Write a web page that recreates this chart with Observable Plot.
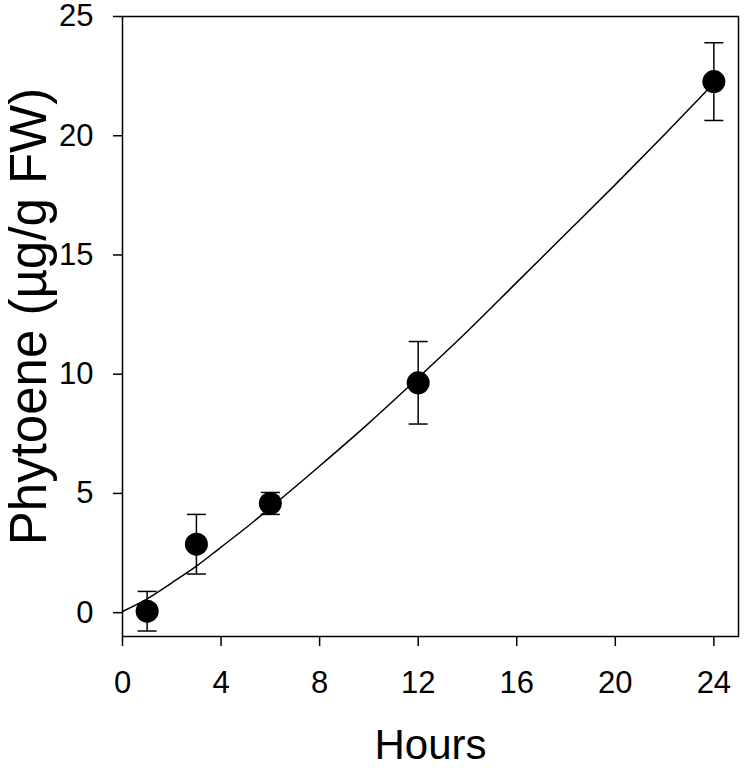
<!DOCTYPE html>
<html>
<head>
<meta charset="utf-8">
<script src="https://cdn.jsdelivr.net/npm/d3@7"></script>
<script src="https://cdn.jsdelivr.net/npm/@observablehq/plot@0.6"></script>
<style>
  html, body { margin: 0; padding: 0; background: #fff; }
  #chart svg { display: block; }
</style>
</head>
<body>
<div id="chart"></div>
<script>
// Measured points (mean ± error)
const hours = [1, 3, 6, 12, 24];
const phytoene = [0.06, 2.87, 4.58, 9.64, 22.27];
const errors = [0.83, 1.25, 0.46, 1.73, 1.63];

// Fitted curve
const fitHours = [0, 1, 2, 3, 4, 5, 6, 8, 10, 12, 14, 16, 18, 20, 22, 24];
const fitValues = [0.05, 0.58, 1.25, 1.95, 2.75, 3.55, 4.4, 6.15, 7.95, 9.85, 11.8, 13.85, 15.9, 17.95, 20.05, 22.2];

// Tick labels
const xTicks = [0, 4, 8, 12, 16, 20, 24];
const yTicks = [0, 5, 10, 15, 20, 25];

const xTitle = "Hours";
const yTitle = "Phytoene (\u00b5g/g FW)";

const points = hours.map((h, i) => ({h, v: phytoene[i], lo: phytoene[i] - errors[i], hi: phytoene[i] + errors[i]}));
const fit = fitHours.map((h, i) => ({h, v: fitValues[i]}));

const capSymbol = {
  draw(context, size) {
    const r = Math.sqrt(size / Math.PI);
    context.moveTo(-r, 0);
    context.lineTo(r, 0);
  }
};

const font = "'Liberation Sans', Arial, Helvetica, sans-serif";

const chart = Plot.plot({
  width: 746,
  height: 768,
  marginLeft: 122,
  marginRight: 8,
  marginTop: 16,
  marginBottom: 132,
  style: {fontFamily: font, fontSize: "31px", color: "#000", background: "#fff", overflow: "visible"},
  x: {domain: [0, 25]},
  y: {domain: [-1, 25]},
  marks: [
    Plot.frame({stroke: "#000", strokeWidth: 1.5}),
    Plot.axisX({ticks: xTicks, tickSize: 10, tickPadding: 24, tickFormat: d => String(d), label: null, strokeWidth: 1.5, fontSize: 31}),
    Plot.axisY({ticks: yTicks, tickSize: 9, tickPadding: 20, tickFormat: d => String(d), label: null, strokeWidth: 1.5, fontSize: 31}),
    Plot.line(fit, {x: "h", y: "v", curve: "monotone-x", stroke: "#000", strokeWidth: 1.5}),
    Plot.ruleX(points, {x: "h", y1: "lo", y2: "hi", stroke: "#000", strokeWidth: 1.5}),
    Plot.dot(points, {x: "h", y: "lo", symbol: capSymbol, r: 9.5, stroke: "#000", strokeWidth: 1.5, fill: "none"}),
    Plot.dot(points, {x: "h", y: "hi", symbol: capSymbol, r: 9.5, stroke: "#000", strokeWidth: 1.5, fill: "none"}),
    Plot.dot(points, {x: "h", y: "v", r: 11.5, fill: "#000", stroke: "none"}),
    Plot.text([xTitle], {frameAnchor: "bottom", dy: 122, fontSize: 42, fill: "#000"}),
    Plot.text([yTitle], {frameAnchor: "left", textAnchor: "middle", dx: -93, dy: -10, rotate: -90, fontSize: 51, fill: "#000"})
  ]
});

document.getElementById("chart").appendChild(chart);
</script>
</body>
</html>
